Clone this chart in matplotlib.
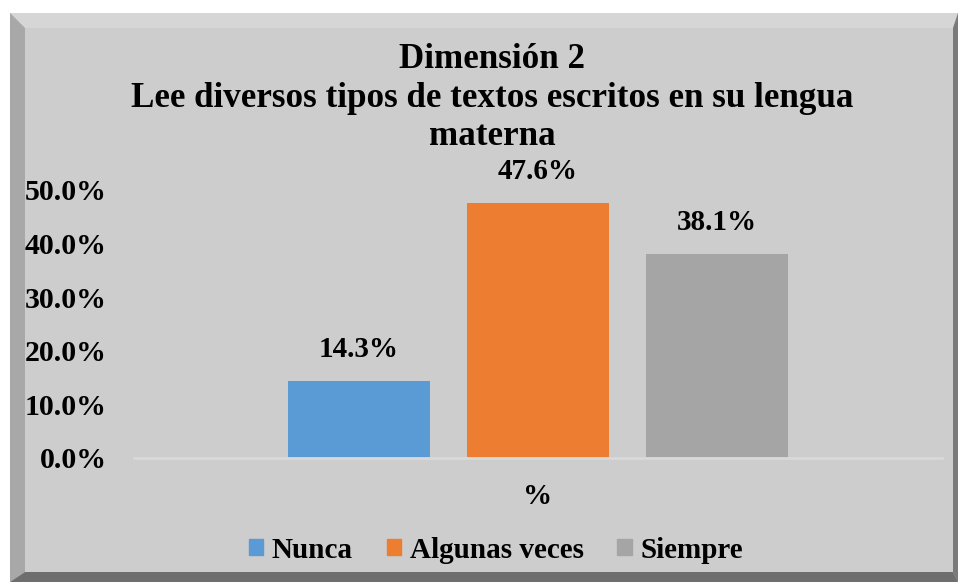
import matplotlib.pyplot as plt
from matplotlib.patches import Polygon, Rectangle

# data
categorias = ['Nunca', 'Algunas veces', 'Siempre']
valores = [0.143, 0.476, 0.381]
colores = ['#5b9bd5', '#ed7d31', '#a5a5a5']
etiquetas_y = ['0.0%', '10.0%', '20.0%', '30.0%', '40.0%', '50.0%']

W, H = 958, 582
plt.rcParams['font.family'] = ['Liberation Serif', 'DejaVu Serif']
plt.rcParams['font.weight'] = 'bold'

fig = plt.figure(figsize=(W / 100, H / 100), dpi=100, facecolor='white')

def px(x, y):
    # pixel coords (top-left origin) to figure fraction
    return (x / W, 1 - y / H)

# beveled frame
x0, y0, x1, y1 = 10, 13, 958, 582
b = 15
frame = [
    ([px(x0, y0), px(x1, y0), px(x1, y1), px(x0, y1)], '#cdcdcd'),
    ([px(x0, y0), px(x1, y0), px(x1 - 5, y0 + b), px(x0 + b, y0 + b)], '#d6d6d6'),
    ([px(x0, y0), px(x0 + b, y0 + b), px(x0 + b, y1 - 10), px(x0, y1)], '#a8a8a8'),
    ([px(x1, y0), px(x1, y1), px(x1 - 5, y1 - 10), px(x1 - 5, y0 + b)], '#7a7a7a'),
    ([px(x0, y1), px(x0 + b, y1 - 10), px(x1 - 5, y1 - 10), px(x1, y1)], '#6e6e6e'),
]
for pts, c in frame:
    fig.patches.append(Polygon(pts, closed=True, transform=fig.transFigure,
                               facecolor=c, edgecolor='none', zorder=-5))

# plot area
left, right, top, bottom = 134, 942, 190, 458
ax = fig.add_axes([left / W, 1 - bottom / H, (right - left) / W, (bottom - top) / H])
ax.set_facecolor('none')
ax.set_zorder(2)

step = 179
pos = [-1, 0, 1]
half = (right - left) / 2 / step
ax.bar(pos, valores, width=142 / step, color=colores, zorder=2)
for p, v in zip(pos, valores):
    ax.annotate(f'{v * 100:.1f}%', (p, v), xytext=(0, 13), textcoords='offset points',
                ha='center', va='bottom', fontsize=21, fontweight='bold')

ax.set_xlim(-half, half)
ax.set_ylim(0, 0.5)
ax.set_yticks([i / 10 for i in range(6)])
ax.set_yticklabels(etiquetas_y, fontsize=21.5, fontweight='bold')
ax.tick_params(axis='y', length=0, pad=19.5)
ax.set_xticks([])
for s in ['top', 'right', 'left']:
    ax.spines[s].set_visible(False)
ax.spines['bottom'].set_color('#d9d9d9')
ax.spines['bottom'].set_linewidth(2)
ax.set_xlabel('%', fontsize=21, fontweight='bold', labelpad=18)

fig.text(492 / W, 1 - 98 / H, 'Dimensión 2\nLee diversos tipos de textos escritos en su lengua\nmaterna',
         ha='center', va='center', fontsize=25.2, fontweight='bold', linespacing=1.2)

handles = [Rectangle((0, 0), 1, 1, color=c) for c in colores]
fig.legend(handles, categorias, loc='center', bbox_to_anchor=(496 / W, 1 - 550 / H),
           ncol=3, frameon=False, prop={'weight': 'bold', 'size': 21},
           handlelength=0.5, handleheight=0.5, handletextpad=0.3, columnspacing=1.15)

fig.savefig('out.png', dpi=100, facecolor='white')
